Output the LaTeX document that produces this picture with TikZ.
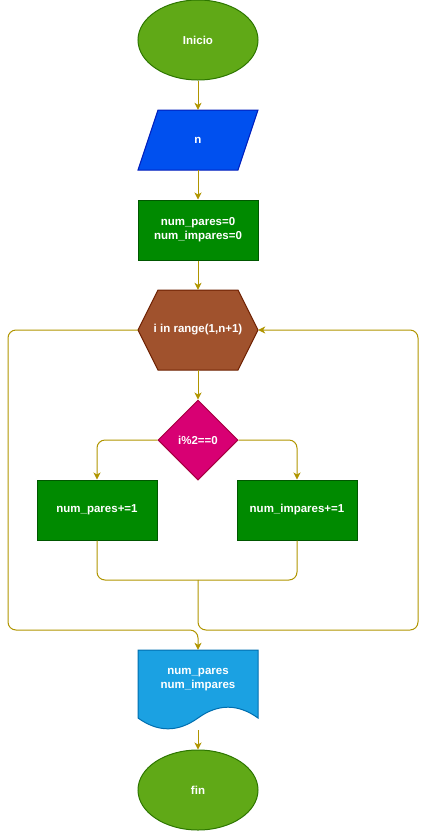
\documentclass[tikz,border=0pt]{standalone}
\usepackage{fontspec}
\setmainfont{Liberation Sans}
\usetikzlibrary{shapes.geometric,arrows.meta,calc}
\definecolor{termfill}{HTML}{60A917}
\definecolor{termdraw}{HTML}{2D7600}
\definecolor{infill}{HTML}{0050EF}
\definecolor{indraw}{HTML}{001DBC}
\definecolor{procfill}{HTML}{008A00}
\definecolor{procdraw}{HTML}{005700}
\definecolor{hexfill}{HTML}{A0522D}
\definecolor{hexdraw}{HTML}{6D1F00}
\definecolor{decfill}{HTML}{D80073}
\definecolor{decdraw}{HTML}{A50040}
\definecolor{docfill}{HTML}{1BA1E2}
\definecolor{docdraw}{HTML}{006EAF}
\definecolor{connc}{HTML}{B09500}
\begin{document}
\begin{tikzpicture}[x=1pt,y=-1pt,
  lbl/.style={text=white,font=\fontsize{11.5}{14}\selectfont\bfseries,align=center,inner sep=0pt},
  term/.style={lbl,ellipse,fill=termfill,draw=termdraw,line width=1pt,minimum width=120pt,minimum height=80pt},
  proc/.style={lbl,rectangle,fill=procfill,draw=procdraw,line width=1pt,minimum width=120pt,minimum height=60pt},
  ghost/.style={lbl,rectangle,minimum width=120pt},
  conn/.style={draw=connc,line width=1pt,rounded corners=8pt},
  arr/.style={-{Stealth[length=7pt,width=7pt,inset=2pt]}}]
\useasboundingbox (0,0) rectangle (426,831);

% start
\node[term] (inicio) at (198,40) {Inicio};

% input parallelogram
\path[fill=infill,draw=indraw,line width=1pt] (158,110) -- (258,110) -- (238,170) -- (138,170) -- cycle;
\node[ghost,minimum height=60pt] (n) at (198,140) {n};

% init
\node[proc] (init) at (198,230) {num\_pares=0\\num\_impares=0};

% loop hexagon
\path[fill=hexfill,draw=hexdraw,line width=1pt] (138,330) -- (158,290) -- (238,290) -- (258,330) -- (238,370) -- (158,370) -- cycle;
\node[ghost,minimum height=80pt] (loop) at (198,330) {i in range(1,n+1)};

% decision
\node[lbl,diamond,aspect=1,fill=decfill,draw=decdraw,line width=1pt,minimum width=80pt,minimum height=80pt] (cond) at (198,440) {i\%2==0};

% branches
\node[proc] (pares) at (97,510) {num\_pares+=1};
\node[proc] (impares) at (297,510) {num\_impares+=1};

% output document
\path[fill=docfill,draw=docdraw,line width=1pt] (138,650) -- (258,650) -- (258,718)
  .. controls (238,703.6) and (218,703.6) .. (198,718)
  .. controls (178,732.4) and (158,732.4) .. (138,718) -- cycle;
\node[ghost,minimum height=80pt] (out) at (198,690) {};
\node[lbl] (outtxt) at (198,680) {num\_pares\\num\_impares};

% end
\node[term] (fin) at (198,790) {fin};

% coordinates
\coordinate (merge) at (198,580);
\coordinate (rb) at (418,630);
\coordinate (rt) at (418,330);
\coordinate (lt) at (8,330);
\coordinate (lb) at (8,630);

% connectors
\draw[conn,arr] (inicio.south) -- (n.north);
\draw[conn,arr] (n.south) -- (init.north);
\draw[conn,arr] (init.south) -- (loop.north);
\draw[conn,arr] (loop.south) -- (cond.north);
\draw[conn,arr] (cond.west) -| (pares.north);
\draw[conn,arr] (cond.east) -| (impares.north);
\draw[conn] (pares.south) |- (merge);
\draw[conn] (impares.south) |- (merge);
\draw[conn,arr] (merge) -- (merge |- rb) -- (rb) -- (rt) -- (loop.east);
\draw[conn,arr] (loop.west) -- (lt) -- (lb) -- (out.north |- lb) -- (out.north);
\draw[conn,arr] (out.south) -- (fin.north);
\end{tikzpicture}
\end{document}
